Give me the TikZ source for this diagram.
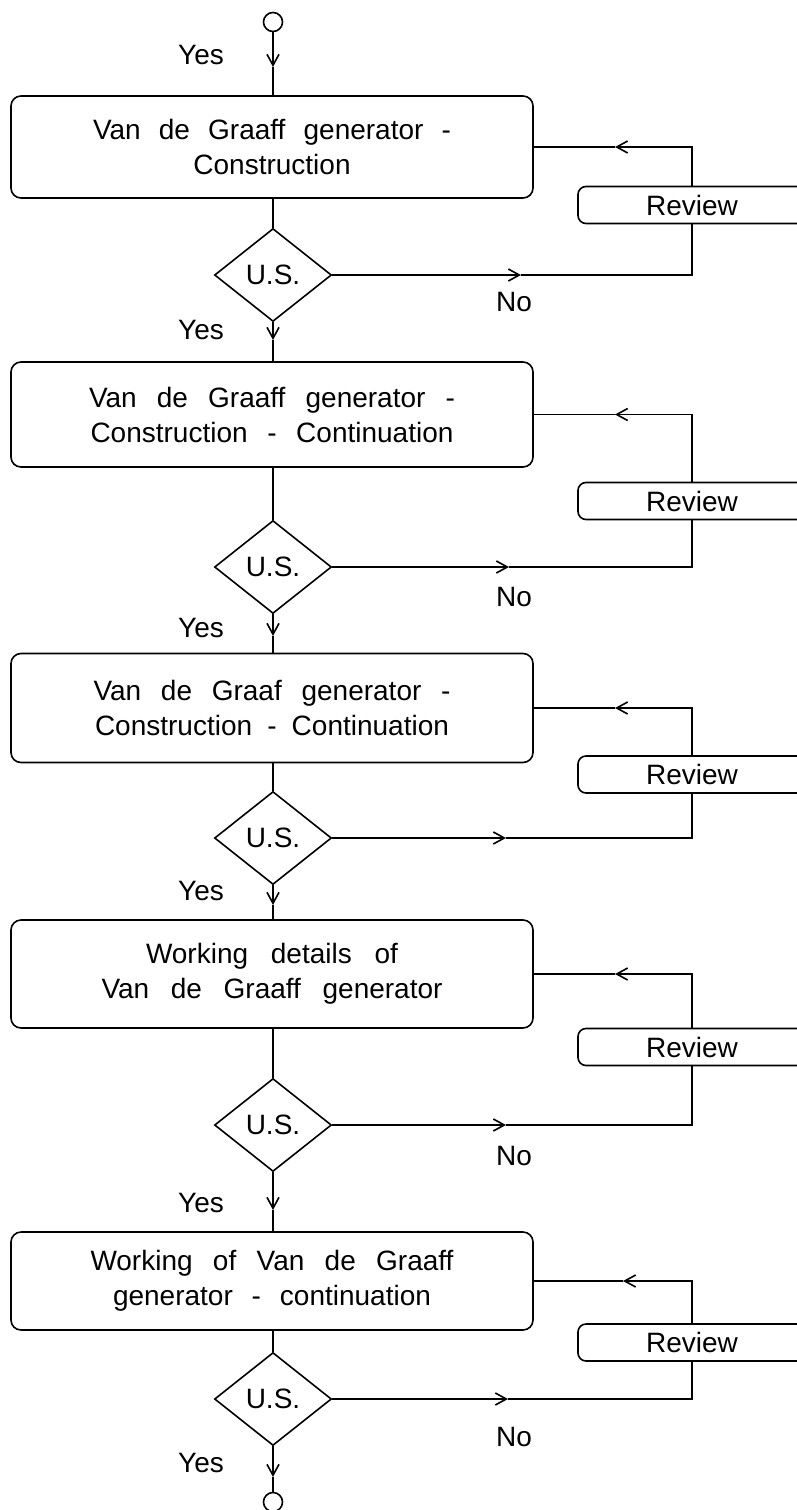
\documentclass[tikz,border=0pt]{standalone}
\usepackage{fontspec}
\setmainfont{Liberation Sans}
\usetikzlibrary{shapes.geometric,arrows.meta}
\newcommand{\sline}[2]{\makebox[#1pt][s]{#2}}
\begin{document}
\begin{tikzpicture}[x=1pt,y=-1pt,
  every node/.style={font=\fontsize{28}{35}\selectfont},
  flow/.style={line width=1.6pt},
  >={Straight Barb[length=11pt,width=12pt]},
  procbox/.style={draw, line width=1.6pt, rounded corners=10pt, minimum width=522pt, align=center, inner sep=0pt},
  revbox/.style={draw, fill=white, line width=1.6pt, rounded corners=8pt, minimum width=228pt, minimum height=37pt, inner sep=0pt},
  decision/.style={draw, diamond, minimum width=117pt, minimum height=93pt, inner sep=0pt, line width=1.6pt},
  term/.style={draw, circle, minimum size=19pt, inner sep=0pt, line width=1.6pt},
  lbl/.style={inner sep=0pt}]
\useasboundingbox (0,0) rectangle (797,1510);
\clip (0,0) rectangle (797,1510);

% ---------- nodes ----------
\node[term] (start) at (273,22) {};
\node[lbl] (y0) at (201,55) {Yes};

\node[procbox, minimum height=102pt] (b1) at (272,147) {\sline{358}{Van de Graaff generator -}\\Construction};
\node[decision] (d1) at (273,275) {U.S.};
\node[lbl] (n1) at (514,302) {No};
\node[lbl] (y1) at (201,330) {Yes};

\node[procbox, minimum height=105pt] (b2) at (272,414.5) {\sline{366}{Van de Graaff generator -}\\\sline{363}{Construction - Continuation}};
\node[decision] (d2) at (273,567) {U.S.};
\node[lbl] (n2) at (514,597) {No};
\node[lbl] (y2) at (201,628) {Yes};

\node[procbox, minimum height=109pt] (b3) at (272,708) {\sline{357}{Van de Graaf generator -}\\\sline{354}{Construction - Continuation}};
\node[decision] (d3) at (273,838) {U.S.};
\node[lbl] (y3) at (201,891) {Yes};

\node[procbox, minimum height=108pt] (b4) at (272,974) {\sline{252}{Working details of}\\\sline{341}{Van de Graaff generator}};
\node[decision] (d4) at (273,1125) {U.S.};
\node[lbl] (n4) at (514,1156) {No};
\node[lbl] (y4) at (201,1203) {Yes};

\node[procbox, minimum height=98pt] (b5) at (272,1281) {\sline{363}{Working of Van de Graaff}\\\sline{318}{generator - continuation}};
\node[decision] (d5) at (273,1399) {U.S.};
\node[lbl] (n5) at (514,1437) {No};
\node[lbl] (y5) at (201,1463) {Yes};
\node[term] (stop) at (273,1502) {};

% ---------- arrow tip points ----------
\coordinate (t0) at (273,67);
\coordinate (t1) at (273,340);
\coordinate (t2) at (273,636);
\coordinate (t3) at (273,905);
\coordinate (t4) at (273,1210);
\coordinate (t5) at (273,1477);

\coordinate (h1) at (521,275);
\coordinate (h2) at (509,567);
\coordinate (h3) at (506,838);
\coordinate (h4) at (506,1125);
\coordinate (h5) at (508,1399);

\coordinate (k1) at (615,147);
\coordinate (k2) at (615,414.5);
\coordinate (k3) at (615,708);
\coordinate (k4) at (615,974);
\coordinate (k5) at (623,1281);

% ---------- main flow ----------
\draw[flow,->] (start) -- (t0);
\draw[flow] (t0) -- (b1.north -| t0);
\foreach \i/\j in {1/2,2/3,3/4,4/5}{
  \draw[flow] (b\i.south -| d\i.north) -- (d\i.north);
  \draw[flow,->] (d\i.south) -- (t\i);
  \draw[flow] (t\i) -- (b\j.north -| t\i);
}
\draw[flow] (b5.south -| d5.north) -- (d5.north);
\draw[flow,->] (d5.south) -- (t5);
\draw[flow] (t5) -- (stop);

% ---------- review loops ----------
\node[revbox] (r1) at (692,205) {Review};
\node[revbox] (r2) at (692,501) {Review};
\node[revbox] (r3) at (692,774.5) {Review};
\node[revbox] (r4) at (692,1047) {Review};
\node[revbox] (r5) at (692,1342.5) {Review};

\foreach \i in {1,...,5}{
  \draw[flow,->] (d\i.east) -- (h\i);
  \draw[flow] (h\i) -- (r\i.south |- d\i.east) -- (r\i.south);
  \draw[flow,->] (r\i.north) -- (r\i.north |- b\i.east) -- (k\i);
  \draw[flow] (k\i) -- (b\i.east);
}
\end{tikzpicture}
\end{document}
